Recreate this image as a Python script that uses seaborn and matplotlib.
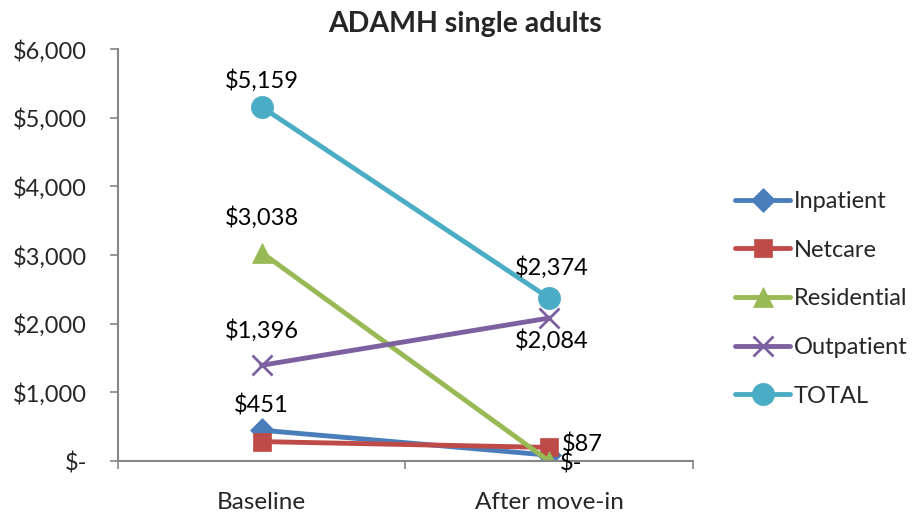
import matplotlib
matplotlib.use("Agg")
import matplotlib.pyplot as plt
import seaborn as sns
import pandas as pd

categories = ["Baseline", "After move-in"]
series_names = ["Inpatient", "Netcare", "Residential", "Outpatient", "TOTAL"]
inpatient = [451, 87]
netcare = [285, 200]
residential = [3038, 0]
outpatient = [1396, 2084]
total = [5159, 2374]
y_ticks = [0, 1000, 2000, 3000, 4000, 5000, 6000]
y_tick_labels = ["$-", "$1,000", "$2,000", "$3,000", "$4,000", "$5,000", "$6,000"]

colors = ["#4A7EBB", "#BE4B48", "#98B954", "#7D60A0", "#4BACC6"]
markers = ["D", "s", "^", "x", "o"]
msizes = [12, 13, 14, 14, 16]

values = [inpatient, netcare, residential, outpatient, total]
rows = []
for name, vals in zip(series_names, values):
    for i, v in enumerate(vals):
        rows.append({"series": name, "pos": i, "cost": v})
df = pd.DataFrame(rows)

sns.set_style("white")
plt.rcParams["font.family"] = ["Lato", "DejaVu Sans"]

fig = plt.figure(figsize=(9.13, 5.17), dpi=100)
ax = fig.add_axes([0.129, 0.108, 0.630, 0.797])

for name, col, mk, ms in zip(series_names, colors, markers, msizes):
    sub = df[df["series"] == name]
    sns.lineplot(data=sub, x="pos", y="cost", ax=ax, color=col, marker=mk,
                 markersize=ms, linewidth=3.5, label=name,
                 markeredgecolor=col, markeredgewidth=2 if mk == "x" else 0.5)

ax.set_xlim(-0.5, 1.5)
ax.set_ylim(0, 6000)
ax.set_yticks(y_ticks)
ax.set_yticklabels(y_tick_labels, fontsize=17)
ax.set_xticks([0, 1])
ax.set_xticklabels(categories, fontsize=17.5)
ax.set_xlabel("")
ax.set_ylabel("")

fig.text(0.509, 0.938, "ADAMH single adults", fontsize=20.5, fontweight="bold",
         ha="center", va="baseline")

for side in ["top", "right"]:
    ax.spines[side].set_visible(False)
for side in ["left", "bottom"]:
    ax.spines[side].set_color("#868686")
    ax.spines[side].set_linewidth(1.5)
ax.tick_params(axis="y", which="major", length=6, width=1.2, color="#868686",
               direction="out", left=True, pad=16)
ax.tick_params(axis="x", which="major", length=0, pad=22)
ax.set_xticks([-0.5, 0.5, 1.5], minor=True)
ax.tick_params(axis="x", which="minor", length=6, width=1.2, color="#868686",
               direction="out", bottom=True)

def fmt(v):
    return "$-" if v == 0 else f"${v:,.0f}"

lab_kw = dict(fontsize=17, color="black", textcoords="offset points")
# value labels
ax.annotate(fmt(total[0]), (0, total[0]), xytext=(0, 11), ha="center", va="bottom", **lab_kw)
ax.annotate(fmt(total[1]), (1, total[1]), xytext=(2, 14), ha="center", va="bottom", **lab_kw)
ax.annotate(fmt(residential[0]), (0, residential[0]), xytext=(0, 17), ha="center", va="bottom", **lab_kw)
ax.annotate(fmt(outpatient[0]), (0, outpatient[0]), xytext=(0, 17), ha="center", va="bottom", **lab_kw)
ax.annotate(fmt(outpatient[1]), (1, outpatient[1]), xytext=(2, -8), ha="center", va="top", **lab_kw)
ax.annotate(fmt(inpatient[0]), (0, inpatient[0]), xytext=(0, 10), ha="center", va="bottom", **lab_kw)
ax.annotate(fmt(inpatient[1]), (1, inpatient[1]), xytext=(9, 0), ha="left", va="bottom", **lab_kw)
ax.annotate(fmt(residential[1]), (1, residential[1]), xytext=(8, -2), ha="left", va="center", **lab_kw)

ax.get_legend().remove()
handles, labels = ax.get_legend_handles_labels()
fig.legend(handles, labels, loc="center left", bbox_to_anchor=(0.805, 0.422),
           frameon=False, fontsize=17, handlelength=2.35, labelspacing=1.17,
           handletextpad=0.15, borderpad=0, borderaxespad=0)

fig.savefig("out.png", dpi=100)
